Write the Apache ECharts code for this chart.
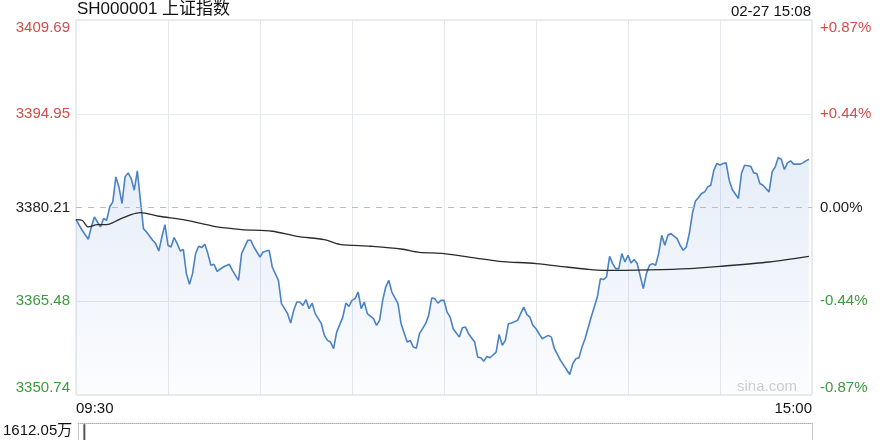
<!DOCTYPE html>
<html>
<head>
<meta charset="utf-8">
<script src="https://cdn.jsdelivr.net/npm/echarts@6/dist/echarts.min.js"></script>
<style>
html,body{margin:0;padding:0;background:#fff;}
#chart{width:889px;height:440px;}
</style>
</head>
<body>
<div id="chart"></div>
<script>
// ---- data ----
const titleText = 'SH000001 上证指数';
const stampText = '02-27 15:08';
const prevClose = 3380.21;
const axisMin = 3350.74;
const axisMax = 3409.69;
const leftLabels = ['3350.74', '3365.48', '3380.21', '3394.95', '3409.69'];
const rightLabels = ['-0.87%', '-0.44%', '0.00%', '+0.44%', '+0.87%'];
const timeLabels = ['09:30', '', '', '', '', '', '', '', '15:00'];

const priceMinutes = [0,2,4,5,6,7,8,9,10,11,12,13,14,15,16,17,18,19,20,21,22,23,25,26,27,28,29,30,31,32,33,34,35,36,37,38,39,40,
  41,42,43,44,45,46,48,50,51,53,54,56,57,58,60,61,63,64,66,67,69,70,71,72,73,74,75,76,77,78,80,
  81,82,83,84,85,87,88,89,90,91,92,93,94,95,97,98,99,100,101,102,103,105,106,108,109,110,111,112,114,115,116,117,118,119,120,
  121,122,123,125,126,127,128,130,131,132,133,134,135,137,138,139,140,141,142,144,145,146,147,148,149,150,152,154,155,156,158,160,
  161,162,163,164,165,166,168,170,171,172,173,174,175,176,177,178,179,180,181,182,183,184,185,186,187,188,189,190,191,192,193,194,196,197,198,199,200,
  201,202,203,204,205,206,207,208,209,210,211,212,213,214,216,217,218,220,221,222,223,224,226,227,228,229,230,231,232,233,234,236,237,238,239];
const priceValues = [3378.32,3376.64,3375.22,3377.16,3378.73,3377.94,3377.16,3378.48,3378.21,3380.30,3381.09,3385.03,3383.45,3380.84,3385.03,3385.66,3384.77,3382.93,3385.97,3381.36,3376.90,3376.37,3375.06,3374.54,3373.38,3375.58,3377.53,3374.28,3374.01,3375.49,3374.54,3373.38,3373.60,3369.82,3368.14,3369.82,3372.97,3374.12,
  3373.91,3374.43,3372.97,3371.13,3371.29,3370.18,3370.86,3371.29,3370.34,3368.77,3372.97,3375.06,3375.06,3374.01,3372.43,3373.22,3373.49,3370.86,3368.77,3365.10,3363.53,3362.05,3364.05,3365.35,3365.35,3364.83,3365.73,3364.31,3365.19,3363.53,3361.95,
  3360.11,3359.32,3359.06,3358.02,3360.63,3362.99,3365.19,3364.67,3365.62,3365.89,3366.93,3364.31,3365.35,3363.53,3362.74,3361.68,3362.47,3365.62,3367.71,3368.77,3366.93,3365.10,3361.95,3359.06,3359.32,3358.27,3358.11,3360.38,3361.95,3363.26,3365.98,3365.89,3365.19,3365.62,3365.62,
  3363.78,3362.99,3361.16,3359.84,3361.32,3361.42,3360.38,3359.06,3356.69,3356.60,3356.06,3356.80,3356.60,3357.48,3360.27,3358.54,3359.32,3361.95,3362.05,3362.47,3363.53,3364.56,3363.42,3362.99,3361.68,3361.16,3359.59,3360.11,3359.84,3358.02,3356.18,3354.71,
  3353.97,3355.66,3356.44,3356.60,3358.27,3359.59,3362.99,3366.14,3369.03,3368.88,3369.29,3372.54,3371.40,3370.61,3370.61,3372.97,3371.65,3372.70,3371.49,3372.03,3371.40,3369.40,3367.46,3369.82,3371.13,3371.40,3371.13,3372.97,3375.85,3374.28,3375.85,3376.12,3375.33,3374.28,3373.49,3374.01,3376.12,
  3379.27,3381.25,3381.78,3382.41,3382.67,3383.45,3383.72,3386.08,3387.14,3386.87,3387.14,3387.23,3384.51,3383.04,3381.63,3385.56,3386.87,3386.71,3385.66,3385.56,3383.99,3383.72,3382.67,3385.81,3386.60,3388.08,3387.77,3386.19,3387.23,3387.54,3387.03,3387.03,3387.23,3387.54,3387.81];

const avgMinutes = [0,2,4,7,10,14,18,21,27,35,41,46,54,64,72,81,86,96,106,112,120,130,138,150,160,166,172,187,200,210,226,239];
const avgValues = [3378.32,3378.21,3377.16,3377.53,3377.53,3378.32,3379.11,3379.42,3378.84,3378.32,3377.69,3377.16,3376.75,3376.48,3375.69,3375.17,3374.43,3374.12,3373.69,3373.17,3372.97,3372.28,3371.76,3371.40,3370.86,3370.55,3370.34,3370.42,3370.61,3370.97,3371.65,3372.54];

const volMax = 1612.05;
const volMaxLabel = '1612.05万';
const volMinutes = [2];
const volValues = [1520];

// ---- chart ----
const FONT = "'Liberation Sans', Arial, 'Noto Sans CJK SC', sans-serif";
const RED = '#d64c4a', GREEN = '#3d9a3d', DARK = '#222';
const chart = echarts.init(document.getElementById('chart'), null, {renderer: 'canvas'});

const option = {
  animation: false,
  backgroundColor: '#fff',
  title: [
    {text: titleText, left: 77, top: 1, padding: 0, textStyle: {fontFamily: FONT, fontSize: 17, fontWeight: 'normal', color: '#111'}},
    {text: stampText, right: 78, top: 4, padding: 0, textStyle: {fontFamily: FONT, fontSize: 15, fontWeight: 'normal', color: '#111'}}
  ],
  grid: [
    {left: 76, right: 77, top: 20, bottom: 45, show: true, borderColor: '#d6d9dd', borderWidth: 1, backgroundColor: 'transparent'},
    {left: 78, right: 77, top: 423, height: 80, show: false}
  ],
  xAxis: [
    {type: 'value', gridIndex: 0, min: 0, max: 240, interval: 30,
     axisLine: {show: false}, axisTick: {show: false},
     splitLine: {show: true, lineStyle: {color: '#e6e9ee', width: 1}},
     axisLabel: {show: true, margin: 6, fontFamily: FONT, fontSize: 15, color: '#111',
       alignMinLabel: 'left', alignMaxLabel: 'right',
       formatter: v => timeLabels[Math.round(v / 30)] || ''}},
    {type: 'value', gridIndex: 1, min: 0, max: 240, position: 'top',
     axisLine: {show: true, onZero: false, lineStyle: {color: '#b0b0b0', type: 'dotted', width: 1}},
     axisTick: {show: false}, axisLabel: {show: false}, splitLine: {show: false}}
  ],
  yAxis: [
    {type: 'value', gridIndex: 0, min: axisMin, max: axisMax, show: false, splitLine: {show: false}},
    {type: 'value', gridIndex: 0, min: 0, max: 4, interval: 1, position: 'left',
     axisLine: {show: false}, axisTick: {show: false},
     splitLine: {show: true, lineStyle: {color: ['#e6e9ee', '#e6e9ee', 'rgba(0,0,0,0)', '#e6e9ee', '#e6e9ee'], width: 1}},
     axisLabel: {margin: 6, fontFamily: FONT, fontSize: 15,
       verticalAlignMinLabel: 'bottom', verticalAlignMaxLabel: 'top',
       formatter: v => leftLabels[Math.round(v)],
       color: v => v > 2 ? RED : (v < 2 ? GREEN : DARK)}},
    {type: 'value', gridIndex: 0, min: 0, max: 4, interval: 1, position: 'right',
     axisLine: {show: false}, axisTick: {show: false}, splitLine: {show: false},
     axisLabel: {margin: 8, fontFamily: FONT, fontSize: 15,
       verticalAlignMinLabel: 'bottom', verticalAlignMaxLabel: 'top',
       formatter: v => rightLabels[Math.round(v)],
       color: v => v > 2 ? RED : (v < 2 ? GREEN : DARK)}},
    {type: 'value', gridIndex: 1, min: 0, max: volMax, interval: volMax, position: 'left',
     axisLine: {show: true, lineStyle: {color: '#c8c8c8'}}, axisTick: {show: false}, splitLine: {show: false},
     axisLabel: {margin: 6, fontFamily: FONT, fontSize: 15, color: '#111',
       verticalAlignMaxLabel: 'top',
       formatter: v => (v >= volMax ? volMaxLabel : '')}},
    {type: 'value', gridIndex: 1, min: 0, max: volMax, position: 'right',
     axisLine: {show: true, lineStyle: {color: '#c8c8c8'}}, axisTick: {show: false},
     splitLine: {show: false}, axisLabel: {show: false}}
  ],
  graphic: [
    {type: 'text', right: 92, top: 379, silent: true,
     style: {text: 'sina.com', fill: '#cfcfcf', font: "15px 'Liberation Sans', Arial, sans-serif"}}
  ],
  series: [
    {name: 'price', type: 'line', xAxisIndex: 0, yAxisIndex: 0, showSymbol: false, silent: true,
     data: priceMinutes.map((m, i) => [m, priceValues[i]]),
     lineStyle: {color: '#4a82c4', width: 1.6},
     areaStyle: {origin: 'start', color: new echarts.graphic.LinearGradient(0, 0, 0, 1, [
       {offset: 0, color: 'rgba(90,140,210,0.22)'},
       {offset: 1, color: 'rgba(90,140,210,0.03)'}])},
     markLine: {silent: true, symbol: 'none', label: {show: false},
       lineStyle: {color: '#b9bcc0', type: [6, 6], width: 1},
       data: [{yAxis: prevClose}]},
     z: 3},
    {name: 'avg', type: 'line', xAxisIndex: 0, yAxisIndex: 0, showSymbol: false, silent: true, smooth: 0.3,
     data: avgMinutes.map((m, i) => [m, avgValues[i]]),
     lineStyle: {color: '#2a2a2a', width: 1.3}, z: 4},
    {name: 'vol', type: 'bar', xAxisIndex: 1, yAxisIndex: 3, barWidth: 2, silent: true,
     data: volMinutes.map((m, i) => [m, volValues[i]]),
     itemStyle: {color: '#555'}}
  ]
};
chart.setOption(option);
</script>
</body>
</html>
